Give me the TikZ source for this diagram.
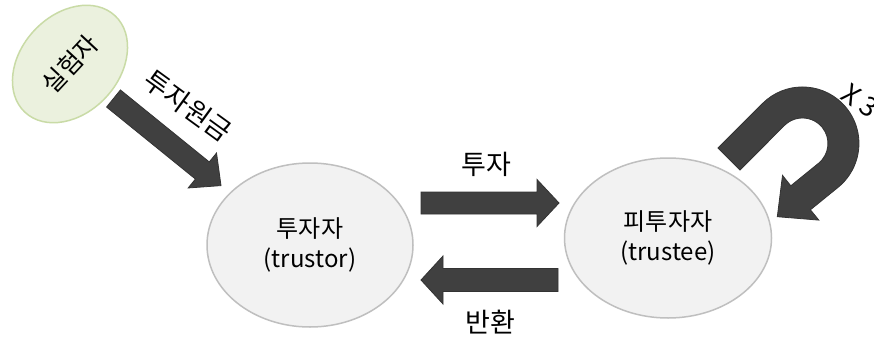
\documentclass[tikz,border=0pt]{standalone}
\usepackage{fontspec}
\setmainfont{Noto Sans CJK KR}
\usetikzlibrary{calc,shapes.geometric}
\definecolor{arrowgray}{HTML}{404040}
\definecolor{arrowedge}{HTML}{333333}
\definecolor{nodefill}{HTML}{F2F2F2}
\definecolor{nodeedge}{HTML}{BFBFBF}
\definecolor{greenfill}{HTML}{EBF1DE}
\definecolor{greenedge}{HTML}{C9DBA6}
\newcommand\blockarrow[5]{% start, tip, shaft half width, head half width, head length
  \coordinate (hb) at ($(#2)!#5!(#1)$);
  \filldraw[blkarrow] ($(#1)!#3!90:(#2)$) -- ($(hb)!#3!90:(#2)$) -- ($(hb)!#4!90:(#2)$) -- (#2)
    -- ($(hb)!#4!-90:(#2)$) -- ($(hb)!#3!-90:(#2)$) -- ($(#1)!#3!-90:(#2)$) -- cycle;
}
\begin{document}
\begin{tikzpicture}[x=1pt,y=-1pt,
  blkarrow/.style={fill=arrowgray, draw=arrowedge, line width=0.8pt, line join=miter},
  person/.style={ellipse, draw=nodeedge, fill=nodefill, line width=1.5pt,
    minimum width=206pt, minimum height=164pt, align=center, inner sep=0pt,
    font=\fontsize{24}{30}\selectfont},
  expnode/.style={ellipse, draw=greenedge, fill=greenfill, line width=1.5pt,
    minimum width=132pt, minimum height=98pt, inner sep=0pt,
    font=\fontsize{25}{30}\selectfont},
  lbl/.style={inner sep=0pt, font=\fontsize{27}{32}\selectfont}]
\useasboundingbox (0,0) rectangle (874,337);
\fill[white] (0,0) rectangle (874,337);

% nodes
\node[expnode, rotate=47] (exp) at (70,64) {실험자};
\node[person] (trustor) at (310,245) {투자자\\(trustor)};
\node[person, minimum width=207pt, minimum height=160pt] (trustee) at (668,238) {피투자자\\(trustee)};

% arrow end points
\coordinate (a1s) at (113.5,98.5);
\coordinate (a1e) at (221,185.6);
\coordinate (a2s) at (421,203);
\coordinate (a2e) at (559,203);
\coordinate (a3s) at (558,280);
\coordinate (a3e) at (421,280);

\blockarrow{a1s}{a1e}{11pt}{22.5pt}{24pt}
\blockarrow{a2s}{a2e}{11pt}{23.5pt}{22pt}
\blockarrow{a3s}{a3e}{11.5pt}{24pt}{22pt}

% U-turn arrow (x 3)
\filldraw[blkarrow] (718,148) -- (762.5,103.5) arc[start angle=225,end angle=411,radius=56.5]
  -- (810.4,209.8) -- (818.8,220.1) -- (777.3,216.7) -- (782.5,175.4) -- (790.8,185.8)
  -- (818.5,163.3) arc[start angle=51,end angle=-135,radius=25.5] -- (740,170) -- cycle;

% labels
\node[lbl, rotate=-36] (l1) at (188,106) {투자원금};
\node[lbl] (l2) at (486,164) {투자};
\node[lbl] (l3) at (490,322) {반환};
\node[lbl, rotate=-35] (l4) at (860,101) {X 3};
\end{tikzpicture}
\end{document}
